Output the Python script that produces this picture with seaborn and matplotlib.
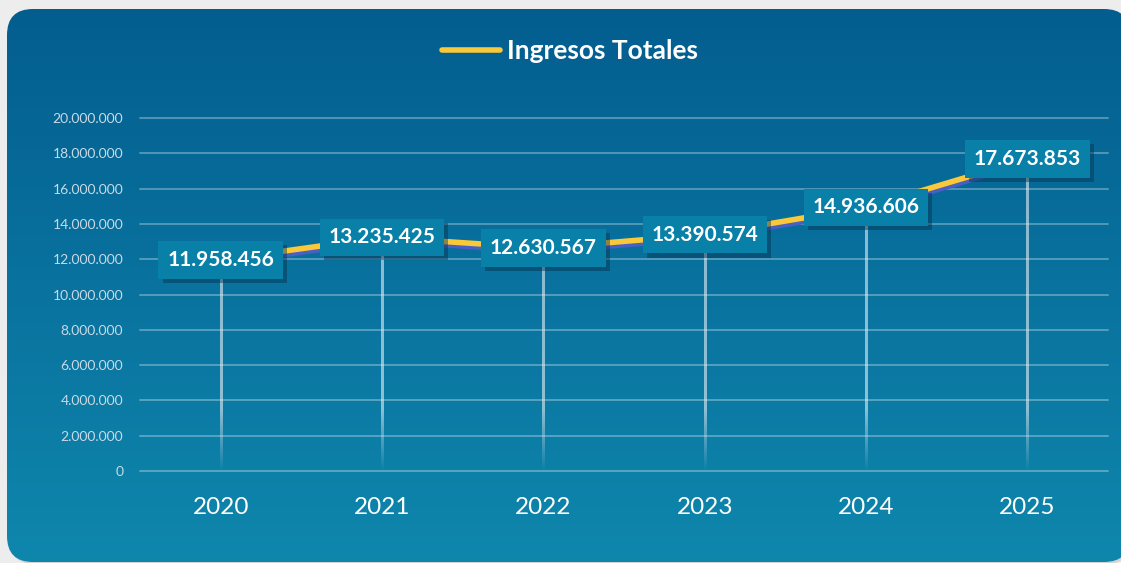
import numpy as np
import matplotlib
matplotlib.use('Agg')
import matplotlib.pyplot as plt
import seaborn as sns
from matplotlib.patches import FancyBboxPatch
from matplotlib import patheffects as pe
from matplotlib.ticker import FuncFormatter
from matplotlib.lines import Line2D
from matplotlib.colors import LinearSegmentedColormap, to_rgba

# ---- data ----
years = ['2020', '2021', '2022', '2023', '2024', '2025']
ingresos = [11958456, 13235425, 12630567, 13390574, 14936606, 17673853]
series_name = 'Ingresos Totales'
y_ticks = [0, 2000000, 4000000, 6000000, 8000000, 10000000,
           12000000, 14000000, 16000000, 18000000, 20000000]


def fmt_es(v, pos=None):
    return f"{v:,.0f}".replace(',', '.')


sns.set_theme(style='white')
plt.rcParams['font.family'] = ['Lato', 'DejaVu Sans']

W, H = 1121, 563
fig = plt.figure(figsize=(W / 100, H / 100), dpi=100, facecolor='#ededed')

# ---- background card with gradient ----
bg = fig.add_axes([0, 0, 1, 1], zorder=0)
bg.set_xlim(0, W)
bg.set_ylim(H, 0)
bg.axis('off')
shadow = FancyBboxPatch((9, 11), 1123, 553,
                        boxstyle='round,pad=0,rounding_size=26',
                        fc='#d4d4d4', ec='none', zorder=0)
bg.add_patch(shadow)
card = FancyBboxPatch((7, 9), 1123, 553,
                      boxstyle='round,pad=0,rounding_size=26',
                      fc='none', ec='none', zorder=0)
bg.add_patch(card)
cmap = LinearSegmentedColormap.from_list('bgc', ['#035d8f', '#0f87ad'])
grad = np.linspace(0, 1, 256).reshape(-1, 1)
im = bg.imshow(grad, cmap=cmap, aspect='auto', extent=[0, W, H, 0],
               origin='upper', interpolation='bicubic', zorder=1)
im.set_clip_path(card)

# ---- main axes ----
ax = fig.add_axes([140 / W, 1 - 471 / H, 968 / W, 353 / H], zorder=1)
ax.set_facecolor('none')
x = np.arange(len(years))
ax.set_xlim(-0.5, len(years) - 0.5)
ax.set_ylim(0, 20000000)

# drop lines: gradient strips fading toward the baseline
fade_top = 3500000
half_w = 0.0062
rgb = to_rgba('#e6eef4')[:3]
for xi, v in zip(x, ingresos):
    n = 200
    yy = (np.arange(n) + 0.5) / n * v
    arr = np.zeros((n, 1, 4))
    arr[:, 0, :3] = rgb
    arr[:, 0, 3] = 0.6 * np.clip(yy / fade_top, 0, 1)
    ax.imshow(arr, extent=[xi - half_w, xi + half_w, 0, v], origin='lower',
              aspect='auto', interpolation='bilinear', zorder=2)

sns.lineplot(x=x, y=ingresos, ax=ax, color='#f9c93a', lw=4, zorder=4,
             solid_capstyle='round',
             path_effects=[pe.SimpleLineShadow(offset=(0.6, -2.4),
                                               shadow_color='#4a5fc4', alpha=1),
                           pe.Normal()])

# value labels
for xi, v in zip(x, ingresos):
    t = ax.text(xi, v, fmt_es(v), ha='center', va='center', fontsize=15,
                fontweight='bold', color='white', zorder=6,
                bbox=dict(boxstyle='square,pad=0.42', fc='#0880a8', ec='none'))
    t.get_bbox_patch().set_path_effects([
        pe.SimplePatchShadow(offset=(3, -3), shadow_rgbFace='#06304d', alpha=0.45),
        pe.Normal()])

ax.set_xlim(-0.5, len(years) - 0.5)
ax.set_ylim(0, 20000000)
ax.set_xticks(x)
ax.set_xticklabels(years)
ax.set_yticks(y_ticks)
ax.yaxis.set_major_formatter(FuncFormatter(fmt_es))
ax.yaxis.grid(True, color='white', alpha=0.3, lw=1.4, zorder=1)
ax.xaxis.grid(False)
ax.set_axisbelow(True)
for s in ax.spines.values():
    s.set_visible(False)
ax.tick_params(axis='x', length=0, pad=19, labelsize=17.5, labelcolor='white')
ax.tick_params(axis='y', length=0, pad=12, labelsize=10, labelcolor='#c9d9e5')
ax.set_xlabel('')
ax.set_ylabel('')
for gl in ax.yaxis.get_gridlines():
    gl.set_clip_on(False)

# title legend
handle = Line2D([0], [0], color='#f9c93a', lw=4, solid_capstyle='round')
fig.legend([handle], [series_name], loc='center',
           bbox_to_anchor=(570 / W, 1 - 51 / H), frameon=False,
           prop={'weight': 'bold', 'size': 19}, labelcolor='white',
           handlelength=2.2, handletextpad=0.3)

fig.savefig('out.png', dpi=100, facecolor=fig.get_facecolor())
